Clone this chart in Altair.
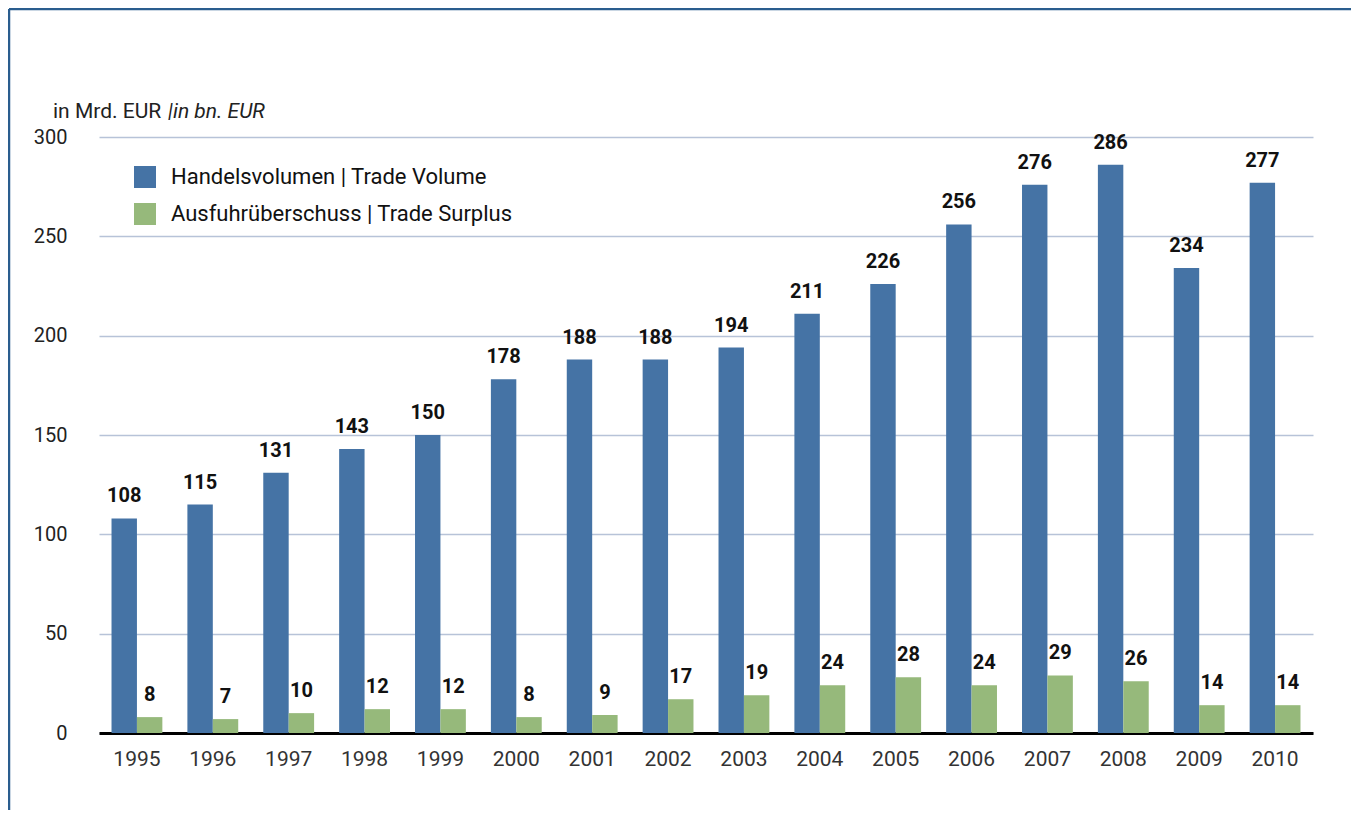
import altair as alt
import pandas as pd

years = [str(y) for y in range(1995, 2011)]
volume = [108, 115, 131, 143, 150, 178, 188, 188, 194, 211, 226, 256, 276, 286, 234, 277]
surplus = [8, 7, 10, 12, 12, 8, 9, 17, 19, 24, 28, 24, 29, 26, 14, 14]
series = ["Handelsvolumen | Trade Volume", "Ausfuhrüberschuss | Trade Surplus"]
colors = ["#4573a5", "#96b97b"]

rows = []
for i, y in enumerate(years):
    rows.append({"year": y, "series": series[0], "value": volume[i], "order": 0})
    rows.append({"year": y, "series": series[1], "value": surplus[i], "order": 1})
df = pd.DataFrame(rows)

W, H = 1214, 596
FONT = "Roboto"

x_enc = alt.X("year:N", sort=years, title=None,
              scale=alt.Scale(paddingInner=0.33, paddingOuter=0.165),
              axis=alt.Axis(labelAngle=0, labelFontSize=21, labelColor="#333333", labelFont=FONT,
                            ticks=False, domainColor="#000000", domainWidth=3, labelPadding=15,
                            grid=False))
xoff = alt.XOffset("series:N", sort=series, scale=alt.Scale(paddingInner=0, paddingOuter=0))
y_enc = alt.Y("value:Q", title=None,
              scale=alt.Scale(domain=[0, 300], nice=False),
              axis=alt.Axis(values=[0, 50, 100, 150, 200, 250, 300], labelFontSize=20,
                            labelColor="#222222", labelFont=FONT, ticks=False, domain=False,
                            labelPadding=32, gridColor="#b7c3d8", gridWidth=1.5))

bars = alt.Chart(df).mark_bar().encode(
    x=x_enc, xOffset=xoff, y=y_enc,
    color=alt.Color("series:N", sort=series,
                    scale=alt.Scale(domain=series, range=colors),
                    legend=alt.Legend(title=None, orient="none", legendX=35, legendY=29,
                                      symbolType="square", symbolSize=484, symbolStrokeWidth=0,
                                      labelFontSize=22, labelFont=FONT, labelColor="#111111",
                                      labelOffset=15, rowPadding=15, labelLimit=600)),
)

labels = alt.Chart(df).mark_text(baseline="bottom", dy=-12, fontSize=20, fontWeight="bold",
                                 font=FONT, color="#111111").encode(
    x=alt.X("year:N", sort=years), xOffset=alt.XOffset("series:N", sort=series), y="value:Q",
    text="value:Q",
)

title1 = alt.Chart(pd.DataFrame({"t": ["in Mrd. EUR"]})).mark_text(
    align="left", baseline="alphabetic", fontSize=21, font=FONT, color="#222222").encode(
    x=alt.value(-46), y=alt.value(-19), text="t:N")
title2 = alt.Chart(pd.DataFrame({"t": ["|in bn. EUR"]})).mark_text(
    align="left", baseline="alphabetic", fontSize=21, font=FONT, fontStyle="italic",
    color="#222222").encode(
    x=alt.value(69), y=alt.value(-19), text="t:N")

frame_v = alt.Chart(pd.DataFrame({"a": [0]})).mark_rule(color="#2a5d8e", strokeWidth=2.5).encode(
    x=alt.value(-90), y=alt.value(-128), y2=alt.value(700))
frame_h = alt.Chart(pd.DataFrame({"a": [0]})).mark_rule(color="#2a5d8e", strokeWidth=2.5).encode(
    x=alt.value(-90), x2=alt.value(1300), y=alt.value(-128))

chart = alt.layer(bars, labels, title1, title2, frame_v, frame_h).properties(
    width=W, height=H,
    background="#ffffff",
    padding={"left": 91, "top": 129, "right": 38, "bottom": 77},
    autosize=alt.AutoSizeParams(type="none"),
).configure_view(strokeWidth=0, stroke="transparent")

chart.save("out.html", embed_options={"renderer": "svg", "actions": False})
